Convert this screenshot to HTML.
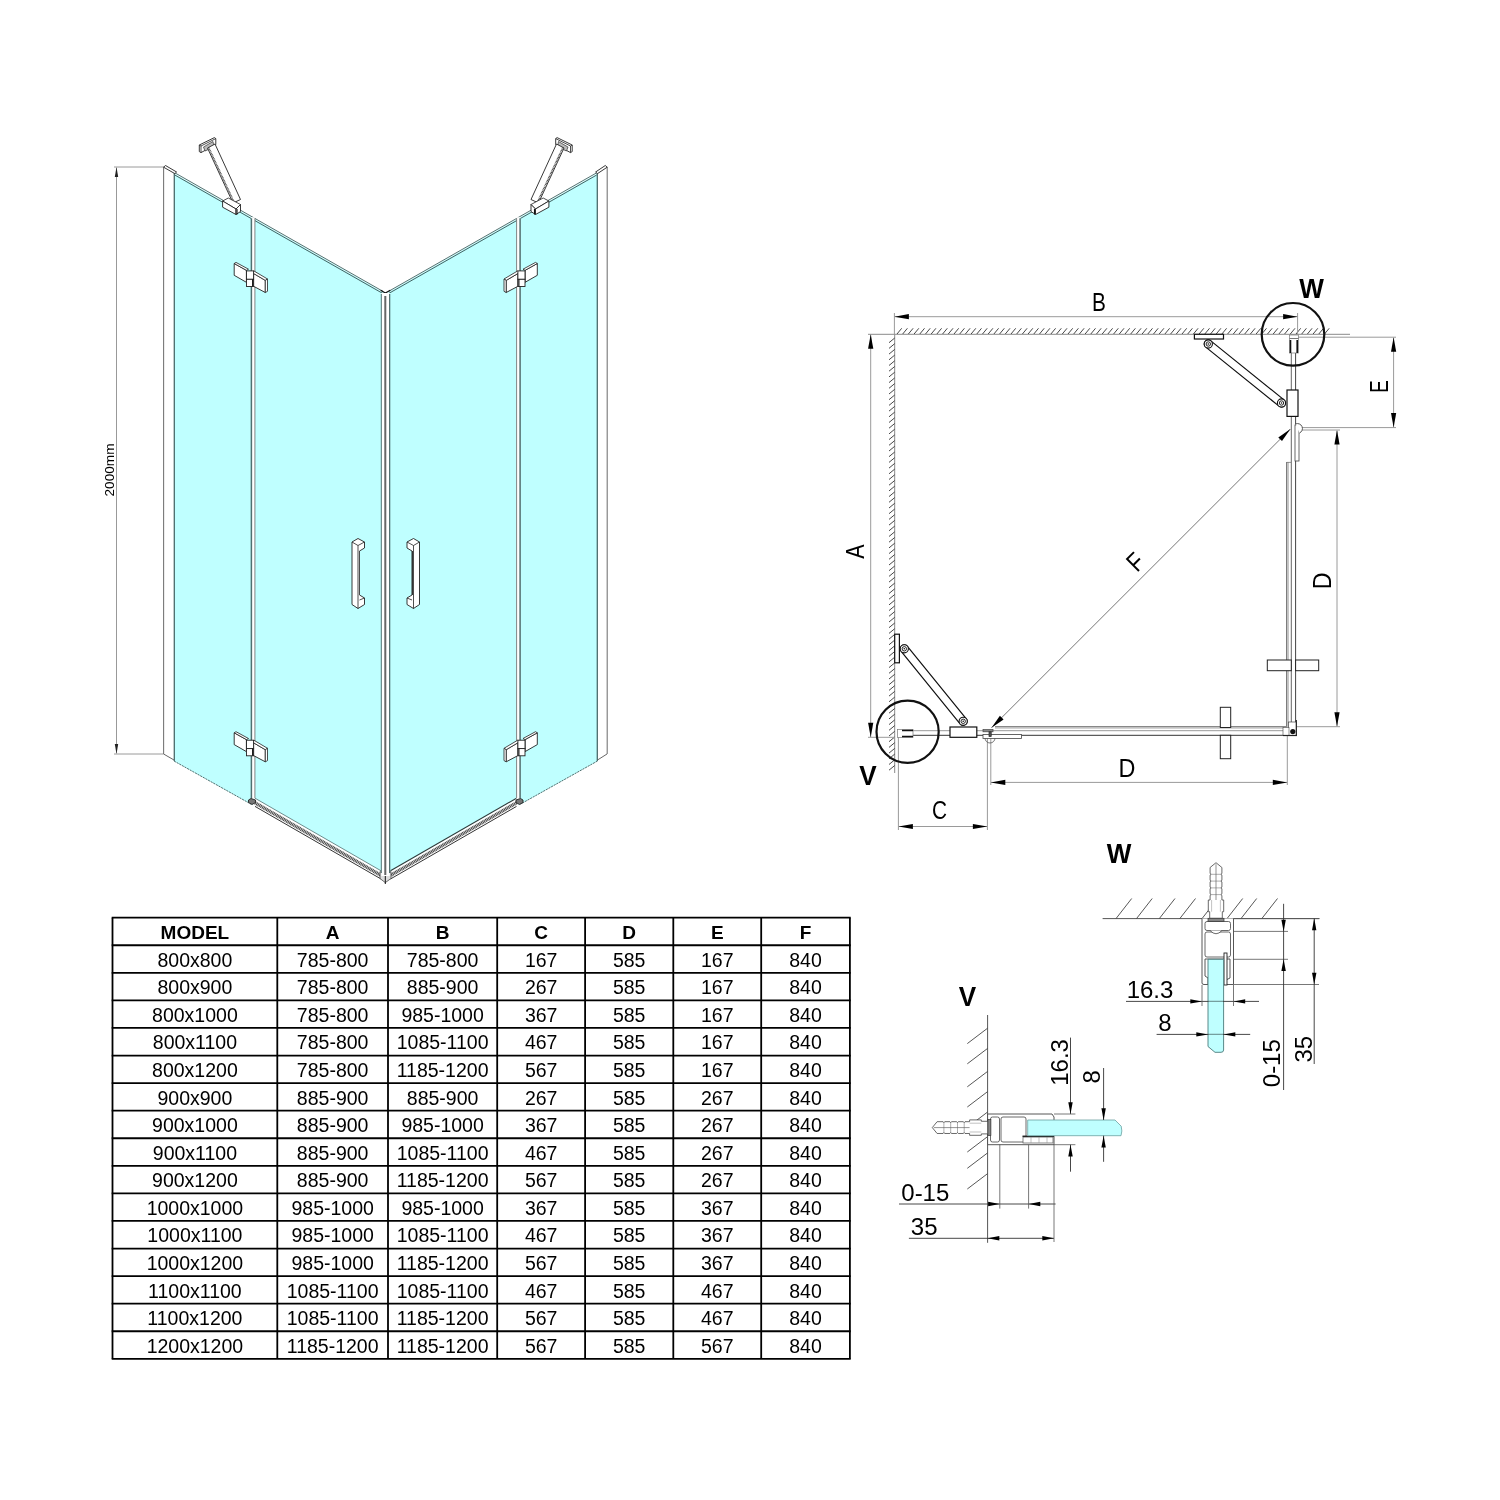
<!DOCTYPE html>
<html><head><meta charset="utf-8"><title>Shower enclosure drawing</title>
<style>
html,body{margin:0;padding:0;background:#fff;}
body{width:1500px;height:1500px;overflow:hidden;}
svg{display:block;font-family:"Liberation Sans",sans-serif;transform:translateZ(0);will-change:transform;}
</style></head><body>
<svg width="1500" height="1500" viewBox="0 0 1500 1500">
<rect width="1500" height="1500" fill="#fff"/>
<line x1="114.00" y1="167.00" x2="164.00" y2="167.00" stroke="#9a9a9a" stroke-width="1" />
<line x1="114.00" y1="754.00" x2="164.00" y2="754.00" stroke="#9a9a9a" stroke-width="1" />
<line x1="116.50" y1="168.00" x2="116.50" y2="753.00" stroke="#999" stroke-width="1" />
<polygon points="116.50,167.00 118.20,177.00 114.80,177.00" fill="#222"/>
<polygon points="116.50,754.00 114.80,744.00 118.20,744.00" fill="#222"/>
<text transform="translate(109.00,470.00) rotate(-90)" x="0" y="4.68" font-size="13.6" font-weight="normal" text-anchor="middle" fill="#000">2000mm</text>
<polygon points="174.00,173.60 253.00,218.23 253.00,805.24 174.00,761.00" stroke="none" stroke-width="0" fill="#bfffff" />
<polygon points="253.00,218.23 385.30,293.50 385.30,873.25 253.00,797.05" stroke="none" stroke-width="0" fill="#bfffff" />
<polygon points="518.50,218.23 386.20,293.50 386.20,873.25 518.50,797.05" stroke="none" stroke-width="0" fill="#bfffff" />
<polygon points="597.50,173.60 518.50,218.23 518.50,805.24 597.50,761.00" stroke="none" stroke-width="0" fill="#bfffff" />
<line x1="174.80" y1="172.80" x2="383.00" y2="291.40" stroke="#4a6a6a" stroke-width="0.95" />
<line x1="174.80" y1="175.00" x2="383.00" y2="293.60" stroke="#3a5a5a" stroke-width="0.95" />
<line x1="596.70" y1="172.80" x2="388.50" y2="291.40" stroke="#4a6a6a" stroke-width="0.95" />
<line x1="596.70" y1="175.00" x2="388.50" y2="293.60" stroke="#3a5a5a" stroke-width="0.95" />
<polyline points="380.70,290.30 385.30,293.00 390.30,290.30" stroke="#111" stroke-width="1.3" fill="none" />
<line x1="174.00" y1="761.00" x2="251.00" y2="804.12" stroke="#3f6262" stroke-width="0.9" stroke-dasharray="2.2 0.8"/>
<line x1="597.50" y1="761.00" x2="520.50" y2="804.12" stroke="#3f6262" stroke-width="0.9" stroke-dasharray="2.2 0.8"/>
<polygon points="255.00,798.20 381.00,870.78 381.00,879.38 255.00,806.80" stroke="none" stroke-width="0" fill="#fff" />
<line x1="255.00" y1="798.20" x2="381.00" y2="870.78" stroke="#5c8080" stroke-width="0.9" />
<line x1="255.00" y1="802.80" x2="381.00" y2="875.38" stroke="#4a4a4a" stroke-width="3.4" stroke-dasharray="1.1 0.55"/>
<line x1="255.00" y1="806.40" x2="381.00" y2="878.98" stroke="#333" stroke-width="1.0" />
<polygon points="516.50,798.20 390.50,870.78 390.50,879.38 516.50,806.80" stroke="none" stroke-width="0" fill="#fff" />
<line x1="516.50" y1="798.20" x2="390.50" y2="870.78" stroke="#2a3a3a" stroke-width="1.1" />
<line x1="516.50" y1="802.80" x2="390.50" y2="875.38" stroke="#4a4a4a" stroke-width="3.4" stroke-dasharray="1.1 0.55"/>
<line x1="516.50" y1="806.40" x2="390.50" y2="878.98" stroke="#333" stroke-width="1.0" />
<polygon points="380.00,871.50 385.30,875.00 391.00,871.50 391.00,878.50 385.30,882.60 380.00,878.50" stroke="#444" stroke-width="0.8" fill="#ddd" />
<line x1="385.30" y1="868.00" x2="385.30" y2="884.00" stroke="#111" stroke-width="1" />
<rect x="163.60" y="167.00" width="10.40" height="588.00" stroke="none" stroke-width="0" fill="#fff" />
<line x1="163.60" y1="167.00" x2="163.60" y2="754.00" stroke="#777" stroke-width="1.1" />
<line x1="174.30" y1="173.00" x2="174.30" y2="761.00" stroke="#4a6a6a" stroke-width="1.3" />
<line x1="163.60" y1="754.00" x2="174.00" y2="760.00" stroke="#555" stroke-width="0.9" />
<polygon points="163.60,167.20 165.50,165.50 176.60,172.00 174.80,173.60" stroke="#222" stroke-width="0.9" fill="#fff" />
<rect x="597.50" y="167.00" width="9.50" height="588.00" stroke="none" stroke-width="0" fill="#fff" />
<line x1="607.20" y1="167.00" x2="607.20" y2="754.00" stroke="#777" stroke-width="1.1" />
<line x1="597.30" y1="173.00" x2="597.30" y2="761.00" stroke="#4a6a6a" stroke-width="1.3" />
<line x1="607.00" y1="754.00" x2="597.50" y2="760.00" stroke="#555" stroke-width="0.9" />
<polygon points="607.20,167.20 605.30,165.50 595.60,172.00 597.50,173.60" stroke="#222" stroke-width="0.9" fill="#fff" />
<rect x="251.00" y="217.23" width="4.00" height="581.97" stroke="none" stroke-width="0" fill="#fff" />
<line x1="251.40" y1="218.23" x2="251.40" y2="798.20" stroke="#4f7070" stroke-width="1.5" />
<line x1="254.90" y1="218.23" x2="254.90" y2="798.20" stroke="#666" stroke-width="0.8" />
<rect x="516.50" y="217.23" width="4.00" height="581.97" stroke="none" stroke-width="0" fill="#fff" />
<line x1="520.10" y1="218.23" x2="520.10" y2="798.20" stroke="#4f7070" stroke-width="1.5" />
<line x1="516.60" y1="218.23" x2="516.60" y2="798.20" stroke="#666" stroke-width="0.8" />
<rect x="381.30" y="293.00" width="8.40" height="583.00" stroke="none" stroke-width="0" fill="#fff" />
<line x1="381.30" y1="294.00" x2="381.30" y2="873.00" stroke="#4f7070" stroke-width="1" />
<line x1="385.30" y1="296.00" x2="385.30" y2="875.00" stroke="#666" stroke-width="2" />
<line x1="389.70" y1="294.00" x2="389.70" y2="873.00" stroke="#3a5a5a" stroke-width="1.1" />
<polygon points="248.50,800.00 251.00,798.50 255.50,800.00 255.50,802.50 252.00,804.50 248.50,802.50" stroke="#222" stroke-width="0.9" fill="#777" />
<polygon points="523.00,800.00 520.50,798.50 516.00,800.00 516.00,802.50 519.50,804.50 523.00,802.50" stroke="#222" stroke-width="0.9" fill="#777" />
<polygon points="234.20,263.50 246.40,270.30 246.40,282.30 234.20,275.30" stroke="#222" stroke-width="0.9" fill="#fff" />
<polygon points="234.20,263.50 236.00,262.40 248.50,269.20 246.40,270.30" stroke="#222" stroke-width="0.8" fill="#fff" />
<polygon points="253.60,273.50 265.30,280.40 265.30,292.50 253.60,286.30" stroke="#222" stroke-width="0.9" fill="#fff" />
<polygon points="252.50,271.70 254.00,271.00 267.50,279.00 265.30,280.40 253.60,273.50" stroke="#222" stroke-width="0.8" fill="#fff" />
<polygon points="265.30,280.40 267.50,279.00 267.50,291.30 265.30,292.50" stroke="#222" stroke-width="0.8" fill="#fff" />
<rect x="246.50" y="270.90" width="7.10" height="8.40" stroke="#222" stroke-width="0.9" fill="#fff" />
<rect x="246.50" y="279.30" width="7.10" height="7.20" stroke="#222" stroke-width="0.9" fill="#fff" />
<line x1="252.60" y1="279.30" x2="252.60" y2="286.50" stroke="#111" stroke-width="1.1" />
<polygon points="537.30,263.50 525.10,270.30 525.10,282.30 537.30,275.30" stroke="#222" stroke-width="0.9" fill="#fff" />
<polygon points="537.30,263.50 535.50,262.40 523.00,269.20 525.10,270.30" stroke="#222" stroke-width="0.8" fill="#fff" />
<polygon points="517.90,273.50 506.20,280.40 506.20,292.50 517.90,286.30" stroke="#222" stroke-width="0.9" fill="#fff" />
<polygon points="519.00,271.70 517.50,271.00 504.00,279.00 506.20,280.40 517.90,273.50" stroke="#222" stroke-width="0.8" fill="#fff" />
<polygon points="506.20,280.40 504.00,279.00 504.00,291.30 506.20,292.50" stroke="#222" stroke-width="0.8" fill="#fff" />
<rect x="517.90" y="270.90" width="7.10" height="8.40" stroke="#222" stroke-width="0.9" fill="#fff" />
<rect x="517.90" y="279.30" width="7.10" height="7.20" stroke="#222" stroke-width="0.9" fill="#fff" />
<line x1="518.90" y1="279.30" x2="518.90" y2="286.50" stroke="#111" stroke-width="1.1" />
<polygon points="234.20,732.80 246.40,739.60 246.40,751.60 234.20,744.60" stroke="#222" stroke-width="0.9" fill="#fff" />
<polygon points="234.20,732.80 236.00,731.70 248.50,738.50 246.40,739.60" stroke="#222" stroke-width="0.8" fill="#fff" />
<polygon points="253.60,742.80 265.30,749.70 265.30,761.80 253.60,755.60" stroke="#222" stroke-width="0.9" fill="#fff" />
<polygon points="252.50,741.00 254.00,740.30 267.50,748.30 265.30,749.70 253.60,742.80" stroke="#222" stroke-width="0.8" fill="#fff" />
<polygon points="265.30,749.70 267.50,748.30 267.50,760.60 265.30,761.80" stroke="#222" stroke-width="0.8" fill="#fff" />
<rect x="246.50" y="740.20" width="7.10" height="8.40" stroke="#222" stroke-width="0.9" fill="#fff" />
<rect x="246.50" y="748.60" width="7.10" height="7.20" stroke="#222" stroke-width="0.9" fill="#fff" />
<line x1="252.60" y1="748.60" x2="252.60" y2="755.80" stroke="#111" stroke-width="1.1" />
<polygon points="537.30,732.80 525.10,739.60 525.10,751.60 537.30,744.60" stroke="#222" stroke-width="0.9" fill="#fff" />
<polygon points="537.30,732.80 535.50,731.70 523.00,738.50 525.10,739.60" stroke="#222" stroke-width="0.8" fill="#fff" />
<polygon points="517.90,742.80 506.20,749.70 506.20,761.80 517.90,755.60" stroke="#222" stroke-width="0.9" fill="#fff" />
<polygon points="519.00,741.00 517.50,740.30 504.00,748.30 506.20,749.70 517.90,742.80" stroke="#222" stroke-width="0.8" fill="#fff" />
<polygon points="506.20,749.70 504.00,748.30 504.00,760.60 506.20,761.80" stroke="#222" stroke-width="0.8" fill="#fff" />
<rect x="517.90" y="740.20" width="7.10" height="8.40" stroke="#222" stroke-width="0.9" fill="#fff" />
<rect x="517.90" y="748.60" width="7.10" height="7.20" stroke="#222" stroke-width="0.9" fill="#fff" />
<line x1="518.90" y1="748.60" x2="518.90" y2="755.80" stroke="#111" stroke-width="1.1" />
<polygon points="352.00,542.00 358.00,538.50 364.50,542.00 364.50,548.00 359.50,551.00 359.50,595.00 364.50,598.00 364.50,604.50 358.00,608.50 352.00,604.50" stroke="#222" stroke-width="0.9" fill="#fff" />
<polyline points="352.00,542.00 358.00,545.50 364.50,542.00" stroke="#222" stroke-width="0.8" fill="none" />
<line x1="358.00" y1="545.50" x2="358.00" y2="608.50" stroke="#222" stroke-width="0.8" />
<line x1="359.50" y1="551.00" x2="359.50" y2="595.00" stroke="#555" stroke-width="0.7" />
<polyline points="359.50,600.00 364.50,598.00" stroke="#222" stroke-width="0.8" fill="none" />
<polygon points="419.50,542.00 413.50,538.50 407.00,542.00 407.00,548.00 412.00,551.00 412.00,595.00 407.00,598.00 407.00,604.50 413.50,608.50 419.50,604.50" stroke="#222" stroke-width="0.9" fill="#fff" />
<polyline points="407.00,542.00 413.50,545.50 419.50,542.00" stroke="#222" stroke-width="0.8" fill="none" />
<line x1="413.50" y1="545.50" x2="413.50" y2="608.50" stroke="#222" stroke-width="0.8" />
<line x1="412.50" y1="551.00" x2="412.50" y2="595.00" stroke="#333" stroke-width="1.1" />
<polyline points="412.00,600.00 407.00,598.00" stroke="#222" stroke-width="0.8" fill="none" />
<polygon points="199.30,145.00 214.40,137.60 215.80,138.60 215.80,144.60 201.00,152.60 199.30,151.60" stroke="#222" stroke-width="0.9" fill="#fff" />
<polyline points="199.30,145.00 201.00,146.00 215.80,138.60" stroke="#222" stroke-width="0.8" fill="none" />
<line x1="201.00" y1="146.00" x2="201.00" y2="152.60" stroke="#222" stroke-width="0.8" />
<polygon points="203.50,147.00 213.00,141.50 214.00,147.00 205.00,151.00" stroke="#333" stroke-width="0.7" fill="#bbb" />
<polygon points="207.50,148.00 215.00,144.00 240.50,199.50 233.00,203.00" stroke="#222" stroke-width="0.9" fill="#fff" />
<line x1="208.70" y1="147.50" x2="234.20" y2="202.50" stroke="#444" stroke-width="1.5" stroke-dasharray="0.9 0.6"/>
<polygon points="222.60,201.00 228.30,198.00 240.50,204.50 236.00,209.00" stroke="#222" stroke-width="0.8" fill="#fff" />
<polygon points="222.60,201.00 236.00,209.00 236.00,214.50 222.60,207.20" stroke="#222" stroke-width="0.9" fill="#fff" />
<polygon points="236.00,209.00 240.50,204.50 240.50,211.50 236.00,214.50" stroke="#222" stroke-width="0.9" fill="#fff" />
<line x1="237.00" y1="209.00" x2="237.00" y2="214.50" stroke="#111" stroke-width="1.1" />
<polygon points="572.20,145.00 557.10,137.60 555.70,138.60 555.70,144.60 570.50,152.60 572.20,151.60" stroke="#222" stroke-width="0.9" fill="#fff" />
<polyline points="572.20,145.00 570.50,146.00 555.70,138.60" stroke="#222" stroke-width="0.8" fill="none" />
<line x1="570.50" y1="146.00" x2="570.50" y2="152.60" stroke="#222" stroke-width="0.8" />
<polygon points="568.00,147.00 558.50,141.50 557.50,147.00 566.50,151.00" stroke="#333" stroke-width="0.7" fill="#bbb" />
<polygon points="564.00,148.00 556.50,144.00 531.00,199.50 538.50,203.00" stroke="#222" stroke-width="0.9" fill="#fff" />
<line x1="562.80" y1="147.50" x2="537.30" y2="202.50" stroke="#444" stroke-width="1.5" stroke-dasharray="0.9 0.6"/>
<polygon points="548.90,201.00 543.20,198.00 531.00,204.50 535.50,209.00" stroke="#222" stroke-width="0.8" fill="#fff" />
<polygon points="548.90,201.00 535.50,209.00 535.50,214.50 548.90,207.20" stroke="#222" stroke-width="0.9" fill="#fff" />
<polygon points="535.50,209.00 531.00,204.50 531.00,211.50 535.50,214.50" stroke="#222" stroke-width="0.9" fill="#fff" />
<line x1="534.50" y1="209.00" x2="534.50" y2="214.50" stroke="#111" stroke-width="1.1" />
<line x1="868.00" y1="334.30" x2="1350.00" y2="334.30" stroke="#8a8a8a" stroke-width="1" />
<line x1="894.70" y1="334.30" x2="894.70" y2="773.00" stroke="#8a8a8a" stroke-width="1" />
<line x1="897.00" y1="334.00" x2="901.70" y2="328.30" stroke="#333" stroke-width="0.9" />
<line x1="902.70" y1="334.00" x2="907.40" y2="328.30" stroke="#333" stroke-width="0.9" />
<line x1="908.40" y1="334.00" x2="913.10" y2="328.30" stroke="#333" stroke-width="0.9" />
<line x1="914.10" y1="334.00" x2="918.80" y2="328.30" stroke="#333" stroke-width="0.9" />
<line x1="919.80" y1="334.00" x2="924.50" y2="328.30" stroke="#333" stroke-width="0.9" />
<line x1="925.50" y1="334.00" x2="930.20" y2="328.30" stroke="#333" stroke-width="0.9" />
<line x1="931.20" y1="334.00" x2="935.90" y2="328.30" stroke="#333" stroke-width="0.9" />
<line x1="936.90" y1="334.00" x2="941.60" y2="328.30" stroke="#333" stroke-width="0.9" />
<line x1="942.60" y1="334.00" x2="947.30" y2="328.30" stroke="#333" stroke-width="0.9" />
<line x1="948.30" y1="334.00" x2="953.00" y2="328.30" stroke="#333" stroke-width="0.9" />
<line x1="954.00" y1="334.00" x2="958.70" y2="328.30" stroke="#333" stroke-width="0.9" />
<line x1="959.70" y1="334.00" x2="964.40" y2="328.30" stroke="#333" stroke-width="0.9" />
<line x1="965.40" y1="334.00" x2="970.10" y2="328.30" stroke="#333" stroke-width="0.9" />
<line x1="971.10" y1="334.00" x2="975.80" y2="328.30" stroke="#333" stroke-width="0.9" />
<line x1="976.80" y1="334.00" x2="981.50" y2="328.30" stroke="#333" stroke-width="0.9" />
<line x1="982.50" y1="334.00" x2="987.20" y2="328.30" stroke="#333" stroke-width="0.9" />
<line x1="988.20" y1="334.00" x2="992.90" y2="328.30" stroke="#333" stroke-width="0.9" />
<line x1="993.90" y1="334.00" x2="998.60" y2="328.30" stroke="#333" stroke-width="0.9" />
<line x1="999.60" y1="334.00" x2="1004.30" y2="328.30" stroke="#333" stroke-width="0.9" />
<line x1="1005.30" y1="334.00" x2="1010.00" y2="328.30" stroke="#333" stroke-width="0.9" />
<line x1="1011.00" y1="334.00" x2="1015.70" y2="328.30" stroke="#333" stroke-width="0.9" />
<line x1="1016.70" y1="334.00" x2="1021.40" y2="328.30" stroke="#333" stroke-width="0.9" />
<line x1="1022.40" y1="334.00" x2="1027.10" y2="328.30" stroke="#333" stroke-width="0.9" />
<line x1="1028.10" y1="334.00" x2="1032.80" y2="328.30" stroke="#333" stroke-width="0.9" />
<line x1="1033.80" y1="334.00" x2="1038.50" y2="328.30" stroke="#333" stroke-width="0.9" />
<line x1="1039.50" y1="334.00" x2="1044.20" y2="328.30" stroke="#333" stroke-width="0.9" />
<line x1="1045.20" y1="334.00" x2="1049.90" y2="328.30" stroke="#333" stroke-width="0.9" />
<line x1="1050.90" y1="334.00" x2="1055.60" y2="328.30" stroke="#333" stroke-width="0.9" />
<line x1="1056.60" y1="334.00" x2="1061.30" y2="328.30" stroke="#333" stroke-width="0.9" />
<line x1="1062.30" y1="334.00" x2="1067.00" y2="328.30" stroke="#333" stroke-width="0.9" />
<line x1="1068.00" y1="334.00" x2="1072.70" y2="328.30" stroke="#333" stroke-width="0.9" />
<line x1="1073.70" y1="334.00" x2="1078.40" y2="328.30" stroke="#333" stroke-width="0.9" />
<line x1="1079.40" y1="334.00" x2="1084.10" y2="328.30" stroke="#333" stroke-width="0.9" />
<line x1="1085.10" y1="334.00" x2="1089.80" y2="328.30" stroke="#333" stroke-width="0.9" />
<line x1="1090.80" y1="334.00" x2="1095.50" y2="328.30" stroke="#333" stroke-width="0.9" />
<line x1="1096.50" y1="334.00" x2="1101.20" y2="328.30" stroke="#333" stroke-width="0.9" />
<line x1="1102.20" y1="334.00" x2="1106.90" y2="328.30" stroke="#333" stroke-width="0.9" />
<line x1="1107.90" y1="334.00" x2="1112.60" y2="328.30" stroke="#333" stroke-width="0.9" />
<line x1="1113.60" y1="334.00" x2="1118.30" y2="328.30" stroke="#333" stroke-width="0.9" />
<line x1="1119.30" y1="334.00" x2="1124.00" y2="328.30" stroke="#333" stroke-width="0.9" />
<line x1="1125.00" y1="334.00" x2="1129.70" y2="328.30" stroke="#333" stroke-width="0.9" />
<line x1="1130.70" y1="334.00" x2="1135.40" y2="328.30" stroke="#333" stroke-width="0.9" />
<line x1="1136.40" y1="334.00" x2="1141.10" y2="328.30" stroke="#333" stroke-width="0.9" />
<line x1="1142.10" y1="334.00" x2="1146.80" y2="328.30" stroke="#333" stroke-width="0.9" />
<line x1="1147.80" y1="334.00" x2="1152.50" y2="328.30" stroke="#333" stroke-width="0.9" />
<line x1="1153.50" y1="334.00" x2="1158.20" y2="328.30" stroke="#333" stroke-width="0.9" />
<line x1="1159.20" y1="334.00" x2="1163.90" y2="328.30" stroke="#333" stroke-width="0.9" />
<line x1="1164.90" y1="334.00" x2="1169.60" y2="328.30" stroke="#333" stroke-width="0.9" />
<line x1="1170.60" y1="334.00" x2="1175.30" y2="328.30" stroke="#333" stroke-width="0.9" />
<line x1="1176.30" y1="334.00" x2="1181.00" y2="328.30" stroke="#333" stroke-width="0.9" />
<line x1="1182.00" y1="334.00" x2="1186.70" y2="328.30" stroke="#333" stroke-width="0.9" />
<line x1="1187.70" y1="334.00" x2="1192.40" y2="328.30" stroke="#333" stroke-width="0.9" />
<line x1="1193.40" y1="334.00" x2="1198.10" y2="328.30" stroke="#333" stroke-width="0.9" />
<line x1="1199.10" y1="334.00" x2="1203.80" y2="328.30" stroke="#333" stroke-width="0.9" />
<line x1="1204.80" y1="334.00" x2="1209.50" y2="328.30" stroke="#333" stroke-width="0.9" />
<line x1="1210.50" y1="334.00" x2="1215.20" y2="328.30" stroke="#333" stroke-width="0.9" />
<line x1="1216.20" y1="334.00" x2="1220.90" y2="328.30" stroke="#333" stroke-width="0.9" />
<line x1="1221.90" y1="334.00" x2="1226.60" y2="328.30" stroke="#333" stroke-width="0.9" />
<line x1="1227.60" y1="334.00" x2="1232.30" y2="328.30" stroke="#333" stroke-width="0.9" />
<line x1="1233.30" y1="334.00" x2="1238.00" y2="328.30" stroke="#333" stroke-width="0.9" />
<line x1="1239.00" y1="334.00" x2="1243.70" y2="328.30" stroke="#333" stroke-width="0.9" />
<line x1="1244.70" y1="334.00" x2="1249.40" y2="328.30" stroke="#333" stroke-width="0.9" />
<line x1="1250.40" y1="334.00" x2="1255.10" y2="328.30" stroke="#333" stroke-width="0.9" />
<line x1="1256.10" y1="334.00" x2="1260.80" y2="328.30" stroke="#333" stroke-width="0.9" />
<line x1="1261.80" y1="334.00" x2="1266.50" y2="328.30" stroke="#333" stroke-width="0.9" />
<line x1="1267.50" y1="334.00" x2="1272.20" y2="328.30" stroke="#333" stroke-width="0.9" />
<line x1="1273.20" y1="334.00" x2="1277.90" y2="328.30" stroke="#333" stroke-width="0.9" />
<line x1="1278.90" y1="334.00" x2="1283.60" y2="328.30" stroke="#333" stroke-width="0.9" />
<line x1="1284.60" y1="334.00" x2="1289.30" y2="328.30" stroke="#333" stroke-width="0.9" />
<line x1="1290.30" y1="334.00" x2="1295.00" y2="328.30" stroke="#333" stroke-width="0.9" />
<line x1="1296.00" y1="334.00" x2="1300.70" y2="328.30" stroke="#333" stroke-width="0.9" />
<line x1="1301.70" y1="334.00" x2="1306.40" y2="328.30" stroke="#333" stroke-width="0.9" />
<line x1="1307.40" y1="334.00" x2="1312.10" y2="328.30" stroke="#333" stroke-width="0.9" />
<line x1="1313.10" y1="334.00" x2="1317.80" y2="328.30" stroke="#333" stroke-width="0.9" />
<line x1="1318.80" y1="334.00" x2="1323.50" y2="328.30" stroke="#333" stroke-width="0.9" />
<line x1="1324.50" y1="334.00" x2="1329.20" y2="328.30" stroke="#333" stroke-width="0.9" />
<line x1="894.70" y1="338.00" x2="889.00" y2="342.70" stroke="#333" stroke-width="0.9" />
<line x1="894.70" y1="343.70" x2="889.00" y2="348.40" stroke="#333" stroke-width="0.9" />
<line x1="894.70" y1="349.40" x2="889.00" y2="354.10" stroke="#333" stroke-width="0.9" />
<line x1="894.70" y1="355.10" x2="889.00" y2="359.80" stroke="#333" stroke-width="0.9" />
<line x1="894.70" y1="360.80" x2="889.00" y2="365.50" stroke="#333" stroke-width="0.9" />
<line x1="894.70" y1="366.50" x2="889.00" y2="371.20" stroke="#333" stroke-width="0.9" />
<line x1="894.70" y1="372.20" x2="889.00" y2="376.90" stroke="#333" stroke-width="0.9" />
<line x1="894.70" y1="377.90" x2="889.00" y2="382.60" stroke="#333" stroke-width="0.9" />
<line x1="894.70" y1="383.60" x2="889.00" y2="388.30" stroke="#333" stroke-width="0.9" />
<line x1="894.70" y1="389.30" x2="889.00" y2="394.00" stroke="#333" stroke-width="0.9" />
<line x1="894.70" y1="395.00" x2="889.00" y2="399.70" stroke="#333" stroke-width="0.9" />
<line x1="894.70" y1="400.70" x2="889.00" y2="405.40" stroke="#333" stroke-width="0.9" />
<line x1="894.70" y1="406.40" x2="889.00" y2="411.10" stroke="#333" stroke-width="0.9" />
<line x1="894.70" y1="412.10" x2="889.00" y2="416.80" stroke="#333" stroke-width="0.9" />
<line x1="894.70" y1="417.80" x2="889.00" y2="422.50" stroke="#333" stroke-width="0.9" />
<line x1="894.70" y1="423.50" x2="889.00" y2="428.20" stroke="#333" stroke-width="0.9" />
<line x1="894.70" y1="429.20" x2="889.00" y2="433.90" stroke="#333" stroke-width="0.9" />
<line x1="894.70" y1="434.90" x2="889.00" y2="439.60" stroke="#333" stroke-width="0.9" />
<line x1="894.70" y1="440.60" x2="889.00" y2="445.30" stroke="#333" stroke-width="0.9" />
<line x1="894.70" y1="446.30" x2="889.00" y2="451.00" stroke="#333" stroke-width="0.9" />
<line x1="894.70" y1="452.00" x2="889.00" y2="456.70" stroke="#333" stroke-width="0.9" />
<line x1="894.70" y1="457.70" x2="889.00" y2="462.40" stroke="#333" stroke-width="0.9" />
<line x1="894.70" y1="463.40" x2="889.00" y2="468.10" stroke="#333" stroke-width="0.9" />
<line x1="894.70" y1="469.10" x2="889.00" y2="473.80" stroke="#333" stroke-width="0.9" />
<line x1="894.70" y1="474.80" x2="889.00" y2="479.50" stroke="#333" stroke-width="0.9" />
<line x1="894.70" y1="480.50" x2="889.00" y2="485.20" stroke="#333" stroke-width="0.9" />
<line x1="894.70" y1="486.20" x2="889.00" y2="490.90" stroke="#333" stroke-width="0.9" />
<line x1="894.70" y1="491.90" x2="889.00" y2="496.60" stroke="#333" stroke-width="0.9" />
<line x1="894.70" y1="497.60" x2="889.00" y2="502.30" stroke="#333" stroke-width="0.9" />
<line x1="894.70" y1="503.30" x2="889.00" y2="508.00" stroke="#333" stroke-width="0.9" />
<line x1="894.70" y1="509.00" x2="889.00" y2="513.70" stroke="#333" stroke-width="0.9" />
<line x1="894.70" y1="514.70" x2="889.00" y2="519.40" stroke="#333" stroke-width="0.9" />
<line x1="894.70" y1="520.40" x2="889.00" y2="525.10" stroke="#333" stroke-width="0.9" />
<line x1="894.70" y1="526.10" x2="889.00" y2="530.80" stroke="#333" stroke-width="0.9" />
<line x1="894.70" y1="531.80" x2="889.00" y2="536.50" stroke="#333" stroke-width="0.9" />
<line x1="894.70" y1="537.50" x2="889.00" y2="542.20" stroke="#333" stroke-width="0.9" />
<line x1="894.70" y1="543.20" x2="889.00" y2="547.90" stroke="#333" stroke-width="0.9" />
<line x1="894.70" y1="548.90" x2="889.00" y2="553.60" stroke="#333" stroke-width="0.9" />
<line x1="894.70" y1="554.60" x2="889.00" y2="559.30" stroke="#333" stroke-width="0.9" />
<line x1="894.70" y1="560.30" x2="889.00" y2="565.00" stroke="#333" stroke-width="0.9" />
<line x1="894.70" y1="566.00" x2="889.00" y2="570.70" stroke="#333" stroke-width="0.9" />
<line x1="894.70" y1="571.70" x2="889.00" y2="576.40" stroke="#333" stroke-width="0.9" />
<line x1="894.70" y1="577.40" x2="889.00" y2="582.10" stroke="#333" stroke-width="0.9" />
<line x1="894.70" y1="583.10" x2="889.00" y2="587.80" stroke="#333" stroke-width="0.9" />
<line x1="894.70" y1="588.80" x2="889.00" y2="593.50" stroke="#333" stroke-width="0.9" />
<line x1="894.70" y1="594.50" x2="889.00" y2="599.20" stroke="#333" stroke-width="0.9" />
<line x1="894.70" y1="600.20" x2="889.00" y2="604.90" stroke="#333" stroke-width="0.9" />
<line x1="894.70" y1="605.90" x2="889.00" y2="610.60" stroke="#333" stroke-width="0.9" />
<line x1="894.70" y1="611.60" x2="889.00" y2="616.30" stroke="#333" stroke-width="0.9" />
<line x1="894.70" y1="617.30" x2="889.00" y2="622.00" stroke="#333" stroke-width="0.9" />
<line x1="894.70" y1="623.00" x2="889.00" y2="627.70" stroke="#333" stroke-width="0.9" />
<line x1="894.70" y1="628.70" x2="889.00" y2="633.40" stroke="#333" stroke-width="0.9" />
<line x1="894.70" y1="634.40" x2="889.00" y2="639.10" stroke="#333" stroke-width="0.9" />
<line x1="894.70" y1="640.10" x2="889.00" y2="644.80" stroke="#333" stroke-width="0.9" />
<line x1="894.70" y1="645.80" x2="889.00" y2="650.50" stroke="#333" stroke-width="0.9" />
<line x1="894.70" y1="651.50" x2="889.00" y2="656.20" stroke="#333" stroke-width="0.9" />
<line x1="894.70" y1="657.20" x2="889.00" y2="661.90" stroke="#333" stroke-width="0.9" />
<line x1="894.70" y1="662.90" x2="889.00" y2="667.60" stroke="#333" stroke-width="0.9" />
<line x1="894.70" y1="668.60" x2="889.00" y2="673.30" stroke="#333" stroke-width="0.9" />
<line x1="894.70" y1="674.30" x2="889.00" y2="679.00" stroke="#333" stroke-width="0.9" />
<line x1="894.70" y1="680.00" x2="889.00" y2="684.70" stroke="#333" stroke-width="0.9" />
<line x1="894.70" y1="685.70" x2="889.00" y2="690.40" stroke="#333" stroke-width="0.9" />
<line x1="894.70" y1="691.40" x2="889.00" y2="696.10" stroke="#333" stroke-width="0.9" />
<line x1="894.70" y1="697.10" x2="889.00" y2="701.80" stroke="#333" stroke-width="0.9" />
<line x1="894.70" y1="702.80" x2="889.00" y2="707.50" stroke="#333" stroke-width="0.9" />
<line x1="894.70" y1="708.50" x2="889.00" y2="713.20" stroke="#333" stroke-width="0.9" />
<line x1="894.70" y1="714.20" x2="889.00" y2="718.90" stroke="#333" stroke-width="0.9" />
<line x1="894.70" y1="719.90" x2="889.00" y2="724.60" stroke="#333" stroke-width="0.9" />
<line x1="894.70" y1="725.60" x2="889.00" y2="730.30" stroke="#333" stroke-width="0.9" />
<line x1="894.70" y1="731.30" x2="889.00" y2="736.00" stroke="#333" stroke-width="0.9" />
<line x1="894.70" y1="737.00" x2="889.00" y2="741.70" stroke="#333" stroke-width="0.9" />
<line x1="894.70" y1="742.70" x2="889.00" y2="747.40" stroke="#333" stroke-width="0.9" />
<line x1="894.70" y1="748.40" x2="889.00" y2="753.10" stroke="#333" stroke-width="0.9" />
<line x1="894.70" y1="754.10" x2="889.00" y2="758.80" stroke="#333" stroke-width="0.9" />
<line x1="894.70" y1="759.80" x2="889.00" y2="764.50" stroke="#333" stroke-width="0.9" />
<line x1="894.70" y1="765.50" x2="889.00" y2="770.20" stroke="#333" stroke-width="0.9" />
<line x1="894.40" y1="313.00" x2="894.40" y2="334.00" stroke="#9a9a9a" stroke-width="1" />
<line x1="1297.60" y1="313.00" x2="1297.60" y2="334.00" stroke="#9a9a9a" stroke-width="1" />
<line x1="895.00" y1="316.70" x2="1297.00" y2="316.70" stroke="#9a9a9a" stroke-width="1" />
<polygon points="894.40,316.70 908.90,314.10 908.90,319.30" fill="#000"/>
<polygon points="1297.60,316.70 1283.10,319.30 1283.10,314.10" fill="#000"/>
<text transform="translate(1099.00,302.00) scale(0.8,1)" x="0" y="8.94" font-size="26" font-weight="normal" text-anchor="middle" fill="#000">B</text>
<line x1="868.00" y1="737.30" x2="895.00" y2="737.30" stroke="#9a9a9a" stroke-width="1" />
<line x1="870.70" y1="335.00" x2="870.70" y2="737.00" stroke="#9a9a9a" stroke-width="1" />
<polygon points="870.70,334.30 873.30,348.80 868.10,348.80" fill="#000"/>
<polygon points="870.70,737.30 868.10,722.80 873.30,722.80" fill="#000"/>
<text transform="translate(855.00,551.60) rotate(-90) scale(0.83,1)" x="0" y="8.94" font-size="26" font-weight="normal" text-anchor="middle" fill="#000">A</text>
<line x1="1298.00" y1="337.20" x2="1396.00" y2="337.20" stroke="#9a9a9a" stroke-width="1" />
<line x1="1300.00" y1="427.60" x2="1396.00" y2="427.60" stroke="#9a9a9a" stroke-width="1" />
<line x1="1393.60" y1="338.00" x2="1393.60" y2="427.00" stroke="#9a9a9a" stroke-width="1" />
<polygon points="1393.60,337.20 1396.20,351.70 1391.00,351.70" fill="#000"/>
<polygon points="1393.60,427.60 1391.00,413.10 1396.20,413.10" fill="#000"/>
<text transform="translate(1379.00,386.60) rotate(-90) scale(0.72,1)" x="0" y="8.94" font-size="26" font-weight="normal" text-anchor="middle" fill="#000">E</text>
<line x1="1300.00" y1="430.00" x2="1340.00" y2="430.00" stroke="#9a9a9a" stroke-width="1" />
<line x1="1297.00" y1="726.70" x2="1340.00" y2="726.70" stroke="#9a9a9a" stroke-width="1" />
<line x1="1337.00" y1="431.00" x2="1337.00" y2="726.00" stroke="#9a9a9a" stroke-width="1" />
<polygon points="1337.00,430.00 1339.60,444.50 1334.40,444.50" fill="#000"/>
<polygon points="1337.00,726.70 1334.40,712.20 1339.60,712.20" fill="#000"/>
<text transform="translate(1321.60,580.70) rotate(-90) scale(0.9,1)" x="0" y="8.94" font-size="26" font-weight="normal" text-anchor="middle" fill="#000">D</text>
<line x1="990.80" y1="737.00" x2="990.80" y2="785.00" stroke="#9a9a9a" stroke-width="1" />
<line x1="1287.30" y1="735.00" x2="1287.30" y2="785.00" stroke="#9a9a9a" stroke-width="1" />
<line x1="991.00" y1="782.40" x2="1287.00" y2="782.40" stroke="#9a9a9a" stroke-width="1" />
<polygon points="990.80,782.40 1005.30,779.80 1005.30,785.00" fill="#000"/>
<polygon points="1287.30,782.40 1272.80,785.00 1272.80,779.80" fill="#000"/>
<text transform="translate(1127.00,768.00) scale(0.9,1)" x="0" y="8.94" font-size="26" font-weight="normal" text-anchor="middle" fill="#000">D</text>
<line x1="898.40" y1="737.00" x2="898.40" y2="830.00" stroke="#9a9a9a" stroke-width="1" />
<line x1="987.40" y1="737.00" x2="987.40" y2="830.00" stroke="#9a9a9a" stroke-width="1" />
<line x1="899.00" y1="826.50" x2="987.00" y2="826.50" stroke="#9a9a9a" stroke-width="1" />
<polygon points="898.40,826.50 912.90,823.90 912.90,829.10" fill="#000"/>
<polygon points="987.40,826.50 972.90,829.10 972.90,823.90" fill="#000"/>
<text transform="translate(939.40,810.00) scale(0.8,1)" x="0" y="8.94" font-size="26" font-weight="normal" text-anchor="middle" fill="#000">C</text>
<line x1="991.50" y1="727.80" x2="1290.40" y2="429.00" stroke="#777" stroke-width="1" />
<polygon points="991.50,727.80 999.91,715.71 1003.59,719.39" fill="#000"/>
<polygon points="1290.40,429.00 1281.99,441.09 1278.31,437.41" fill="#000"/>
<text transform="translate(1135.50,562.00) rotate(-45) scale(0.85,1)" x="0" y="8.94" font-size="26" font-weight="normal" text-anchor="middle" fill="#000">F</text>
<line x1="1291.30" y1="337.00" x2="1291.30" y2="735.00" stroke="#666" stroke-width="1" />
<line x1="1295.60" y1="337.00" x2="1295.60" y2="735.00" stroke="#444" stroke-width="1" />
<line x1="1286.70" y1="462.00" x2="1286.70" y2="727.00" stroke="#777" stroke-width="1.3" />
<line x1="1288.20" y1="462.00" x2="1288.20" y2="727.00" stroke="#999" stroke-width="0.8" />
<line x1="1286.70" y1="462.40" x2="1291.00" y2="462.40" stroke="#777" stroke-width="0.8" />
<line x1="898.00" y1="730.70" x2="1296.00" y2="730.70" stroke="#999" stroke-width="1" />
<line x1="898.00" y1="735.30" x2="1296.00" y2="735.30" stroke="#333" stroke-width="1" />
<line x1="995.00" y1="726.70" x2="1287.00" y2="726.70" stroke="#888" stroke-width="1.6" />
<line x1="995.00" y1="728.30" x2="1287.00" y2="728.30" stroke="#bbb" stroke-width="0.8" />
<rect x="1267.30" y="660.00" width="24.00" height="10.70" stroke="#222" stroke-width="1" fill="#fff" />
<rect x="1295.60" y="660.00" width="23.10" height="10.70" stroke="#222" stroke-width="1" fill="#fff" />
<rect x="1220.30" y="707.30" width="10.40" height="20.20" stroke="#222" stroke-width="1" fill="#fff" />
<rect x="1220.30" y="735.30" width="10.40" height="23.40" stroke="#222" stroke-width="1" fill="#fff" />
<rect x="1288.50" y="722.00" width="8.00" height="13.50" stroke="#444" stroke-width="0.7" fill="#fff" />
<rect x="1283.00" y="727.50" width="6.00" height="7.80" stroke="#444" stroke-width="0.6" fill="#fff" />
<circle cx="1292.8" cy="731.6" r="2.6" fill="#111"/>
<line x1="1296.30" y1="720.00" x2="1296.30" y2="736.00" stroke="#222" stroke-width="1.2" />
<line x1="1283.00" y1="735.50" x2="1297.00" y2="735.50" stroke="#222" stroke-width="1.2" />
<rect x="1295.00" y="425.00" width="4.00" height="36.00" stroke="#444" stroke-width="0.8" fill="#fff" />
<path d="M1295.5,424 A4.5,4.5 0 0 1 1299.5,433" stroke="#444" stroke-width="0.9" fill="#fff"/>
<rect x="1194.40" y="334.30" width="29.10" height="4.70" stroke="#111" stroke-width="1.2" fill="#fff" />
<line x1="1208.3" y1="344" x2="1281.5" y2="403" stroke="#111" stroke-width="9.2" stroke-linecap="round"/>
<line x1="1208.3" y1="344" x2="1281.5" y2="403" stroke="#fff" stroke-width="6.8" stroke-linecap="round"/>
<circle cx="1208.3" cy="344" r="4.1" stroke="#111" stroke-width="1.1" fill="#fff"/>
<circle cx="1208.3" cy="344" r="2.2" stroke="#111" stroke-width="0.9" fill="#fff"/>
<circle cx="1208.3" cy="344" r="0.8" fill="#111"/>
<circle cx="1281.5" cy="403" r="4.1" stroke="#111" stroke-width="1.1" fill="#fff"/>
<circle cx="1281.5" cy="403" r="2.2" stroke="#111" stroke-width="0.9" fill="#fff"/>
<circle cx="1281.5" cy="403" r="0.8" fill="#111"/>
<rect x="1287.00" y="390.00" width="11.00" height="26.40" stroke="#111" stroke-width="1.2" fill="#fff" />
<rect x="1289.60" y="335.00" width="8.80" height="18.00" stroke="#777" stroke-width="0.7" fill="#fff" />
<line x1="1290.50" y1="340.00" x2="1290.50" y2="353.00" stroke="#111" stroke-width="1.6" />
<line x1="1297.20" y1="340.00" x2="1297.20" y2="353.00" stroke="#111" stroke-width="1.6" />
<line x1="1289.60" y1="338.50" x2="1298.40" y2="338.50" stroke="#555" stroke-width="0.8" />
<circle cx="1293" cy="334.3" r="31.3" stroke="#111" stroke-width="2.2" fill="none"/>
<text transform="translate(1311.70,288.40) scale(0.95,1)" x="0" y="9.46" font-size="27.5" font-weight="bold" text-anchor="middle" fill="#000">W</text>
<rect x="894.70" y="634.20" width="4.70" height="28.60" stroke="#111" stroke-width="1.2" fill="#fff" />
<line x1="904.3" y1="648.8" x2="963.2" y2="721.3" stroke="#111" stroke-width="9.2" stroke-linecap="round"/>
<line x1="904.3" y1="648.8" x2="963.2" y2="721.3" stroke="#fff" stroke-width="6.8" stroke-linecap="round"/>
<circle cx="904.3" cy="648.8" r="4.1" stroke="#111" stroke-width="1.1" fill="#fff"/>
<circle cx="904.3" cy="648.8" r="2.2" stroke="#111" stroke-width="0.9" fill="#fff"/>
<circle cx="904.3" cy="648.8" r="0.8" fill="#111"/>
<circle cx="963.2" cy="721.3" r="4.1" stroke="#111" stroke-width="1.1" fill="#fff"/>
<circle cx="963.2" cy="721.3" r="2.2" stroke="#111" stroke-width="0.9" fill="#fff"/>
<circle cx="963.2" cy="721.3" r="0.8" fill="#111"/>
<rect x="950.00" y="727.00" width="26.80" height="10.30" stroke="#111" stroke-width="1.2" fill="#fff" />
<rect x="897.50" y="729.50" width="15.50" height="8.00" stroke="#777" stroke-width="0.7" fill="#fff" />
<line x1="902.00" y1="730.50" x2="913.00" y2="730.50" stroke="#111" stroke-width="1.5" />
<line x1="902.00" y1="736.50" x2="913.00" y2="736.50" stroke="#111" stroke-width="1.5" />
<rect x="983.00" y="734.50" width="38.60" height="4.00" stroke="#444" stroke-width="0.8" fill="#fff" />
<path d="M985,738 A5,5 0 0 0 995,738" stroke="#555" stroke-width="0.8" fill="none"/>
<rect x="983.00" y="729.60" width="10.00" height="2.20" stroke="#444" stroke-width="0.7" fill="#888" />
<rect x="989.00" y="731.80" width="2.20" height="4.70" stroke="#222" stroke-width="0.7" fill="#555" />
<circle cx="907.6" cy="731.7" r="31.1" stroke="#111" stroke-width="2.2" fill="none"/>
<text transform="translate(868.00,775.50) scale(0.95,1)" x="0" y="9.46" font-size="27.5" font-weight="bold" text-anchor="middle" fill="#000">V</text>
<text transform="translate(1119.00,853.80) scale(0.95,1)" x="0" y="9.46" font-size="27.5" font-weight="bold" text-anchor="middle" fill="#000">W</text>
<line x1="1102.60" y1="918.60" x2="1319.60" y2="918.60" stroke="#555" stroke-width="1" />
<line x1="1116.00" y1="918.60" x2="1131.70" y2="898.50" stroke="#444" stroke-width="0.9" />
<line x1="1136.50" y1="918.60" x2="1152.20" y2="898.50" stroke="#444" stroke-width="0.9" />
<line x1="1159.30" y1="918.60" x2="1175.00" y2="898.50" stroke="#444" stroke-width="0.9" />
<line x1="1179.80" y1="918.60" x2="1195.50" y2="898.50" stroke="#444" stroke-width="0.9" />
<line x1="1202.00" y1="918.60" x2="1217.70" y2="898.50" stroke="#444" stroke-width="0.9" />
<line x1="1227.00" y1="918.60" x2="1242.70" y2="898.50" stroke="#444" stroke-width="0.9" />
<line x1="1241.00" y1="918.60" x2="1256.70" y2="898.50" stroke="#444" stroke-width="0.9" />
<line x1="1261.80" y1="918.60" x2="1277.50" y2="898.50" stroke="#444" stroke-width="0.9" />
<path d="M1202,918.6 L1202,983 Q1202,984.5 1204,984.5 L1208,984.5 L1208,978 L1205,976 L1205,959 L1230,959 L1230,978 L1226,980 L1226,984.5 L1233.5,984.5 L1233.5,918.6" stroke="#444" stroke-width="0.9" fill="#fff"/>
<rect x="1205.00" y="921.50" width="25.50" height="9.00" stroke="#444" stroke-width="0.8" fill="#fff" rx="2"/>
<rect x="1205.00" y="932.00" width="25.50" height="25.00" stroke="#444" stroke-width="0.8" fill="#fff" rx="2"/>
<path d="M1210,930.5 Q1216,937 1222,930.5" stroke="#444" stroke-width="0.8" fill="#fff"/>
<rect x="1224.00" y="953.00" width="3.00" height="32.00" stroke="#222" stroke-width="0.9" fill="#fff" />
<g transform="translate(1216,862.7) rotate(0)">
<path d="M0.00,0.00 L-5.90,4.80 L-5.90,10.80 L-4.90,11.60 L-5.90,12.40 L-5.90,17.60 L-4.90,18.40 L-5.90,19.20 L-5.90,24.40 L-4.90,25.20 L-5.90,26.00 L-5.90,31.10 L-4.90,31.90 L-5.90,32.70 L-5.90,37.30 L-7.70,37.30 L-7.70,49.00 L-6.30,49.00 L-6.30,55.60 L6.30,55.60 L6.30,49.00 L7.70,49.00 L7.70,37.30 L5.90,37.30 L5.90,32.70 L4.90,31.90 L5.90,31.10 L5.90,26.00 L4.90,25.20 L5.90,24.40 L5.90,19.20 L4.90,18.40 L5.90,17.60 L5.90,12.40 L4.90,11.60 L5.90,10.80 L5.90,4.80 Z" stroke="#444" stroke-width="0.8" fill="#fff"/>
<line x1="-5" y1="11.6" x2="5" y2="11.6" stroke="#777" stroke-width="0.6"/>
<line x1="-5" y1="18.4" x2="5" y2="18.4" stroke="#777" stroke-width="0.6"/>
<line x1="-5" y1="25.2" x2="5" y2="25.2" stroke="#777" stroke-width="0.6"/>
<line x1="-5" y1="31.9" x2="5" y2="31.9" stroke="#777" stroke-width="0.6"/>
<line x1="0" y1="1.5" x2="0" y2="37.3" stroke="#666" stroke-width="0.7"/>
<line x1="-4.4" y1="37.3" x2="-4.4" y2="49" stroke="#999" stroke-width="0.6"/>
<line x1="4.4" y1="37.3" x2="4.4" y2="49" stroke="#999" stroke-width="0.6"/>
<rect x="-8" y="55.6" width="16" height="3" fill="#888" stroke="#333" stroke-width="0.7"/>
</g>
<path d="M1208,959.3 L1223.6,959.3 L1223.6,1050 Q1223.6,1052.3 1221,1052.3 L1215,1052.3 L1208,1046.5 Z" stroke="#4a7a7a" stroke-width="0.9" fill="#bfffff"/>
<line x1="1126.00" y1="1001.40" x2="1259.00" y2="1001.40" stroke="#333" stroke-width="0.9" />
<polygon points="1202.00,1001.40 1190.30,1003.60 1190.30,999.20" fill="#000"/>
<polygon points="1233.50,1001.40 1245.20,999.20 1245.20,1003.60" fill="#000"/>
<line x1="1202.00" y1="985.00" x2="1202.00" y2="1006.00" stroke="#555" stroke-width="0.8" />
<line x1="1233.50" y1="985.00" x2="1233.50" y2="1006.00" stroke="#555" stroke-width="0.8" />
<text transform="translate(1150.00,990.20)" x="0" y="8.26" font-size="24" font-weight="normal" text-anchor="middle" fill="#000">16.3</text>
<line x1="1156.60" y1="1034.40" x2="1250.20" y2="1034.40" stroke="#333" stroke-width="0.9" />
<polygon points="1208.00,1034.40 1196.30,1036.60 1196.30,1032.20" fill="#000"/>
<polygon points="1223.60,1034.40 1235.30,1032.20 1235.30,1036.60" fill="#000"/>
<text transform="translate(1165.00,1022.70)" x="0" y="8.26" font-size="24" font-weight="normal" text-anchor="middle" fill="#000">8</text>
<line x1="1208.60" y1="1001.40" x2="1223.00" y2="1001.40" stroke="#7fb0b0" stroke-width="0.9" />
<line x1="1208.60" y1="1034.40" x2="1223.00" y2="1034.40" stroke="#7fb0b0" stroke-width="0.9" />
<line x1="1233.50" y1="931.40" x2="1288.00" y2="931.40" stroke="#555" stroke-width="0.8" />
<line x1="1233.50" y1="959.30" x2="1288.00" y2="959.30" stroke="#555" stroke-width="0.8" />
<line x1="1233.50" y1="984.50" x2="1319.00" y2="984.50" stroke="#555" stroke-width="0.8" />
<line x1="1233.50" y1="918.60" x2="1319.00" y2="918.60" stroke="#555" stroke-width="0.8" />
<line x1="1283.60" y1="903.80" x2="1283.60" y2="1090.00" stroke="#333" stroke-width="0.9" />
<polygon points="1283.60,931.40 1281.40,919.70 1285.80,919.70" fill="#000"/>
<polygon points="1283.60,959.30 1285.80,971.00 1281.40,971.00" fill="#000"/>
<text transform="translate(1271.80,1063.20) rotate(-90)" x="0" y="8.26" font-size="24" font-weight="normal" text-anchor="middle" fill="#000">0-15</text>
<line x1="1314.20" y1="918.60" x2="1314.20" y2="1064.00" stroke="#333" stroke-width="0.9" />
<polygon points="1314.20,918.60 1316.40,930.30 1312.00,930.30" fill="#000"/>
<polygon points="1314.20,984.50 1312.00,972.80 1316.40,972.80" fill="#000"/>
<text transform="translate(1303.40,1049.20) rotate(-90)" x="0" y="8.26" font-size="24" font-weight="normal" text-anchor="middle" fill="#000">35</text>
<text transform="translate(967.40,996.60) scale(0.95,1)" x="0" y="9.46" font-size="27.5" font-weight="bold" text-anchor="middle" fill="#000">V</text>
<line x1="987.60" y1="1015.00" x2="987.60" y2="1242.80" stroke="#555" stroke-width="1" />
<line x1="987.60" y1="1028.20" x2="967.30" y2="1043.60" stroke="#444" stroke-width="0.9" />
<line x1="987.60" y1="1048.40" x2="967.30" y2="1063.80" stroke="#444" stroke-width="0.9" />
<line x1="987.60" y1="1071.40" x2="967.30" y2="1086.80" stroke="#444" stroke-width="0.9" />
<line x1="987.60" y1="1091.60" x2="967.30" y2="1107.00" stroke="#444" stroke-width="0.9" />
<line x1="987.60" y1="1112.00" x2="967.30" y2="1127.40" stroke="#444" stroke-width="0.9" />
<line x1="987.60" y1="1136.60" x2="967.30" y2="1152.00" stroke="#444" stroke-width="0.9" />
<line x1="987.60" y1="1152.90" x2="967.30" y2="1168.30" stroke="#444" stroke-width="0.9" />
<line x1="987.60" y1="1173.60" x2="967.30" y2="1189.00" stroke="#444" stroke-width="0.9" />
<path d="M987.6,1114 L1052,1114 L1054,1117 L1054,1144.7 L987.6,1144.7 Z" stroke="#444" stroke-width="0.9" fill="#fff"/>
<rect x="990.50" y="1117.00" width="9.00" height="25.00" stroke="#444" stroke-width="0.8" fill="#fff" rx="2"/>
<rect x="1001.00" y="1117.00" width="25.00" height="25.00" stroke="#444" stroke-width="0.8" fill="#fff" rx="2"/>
<rect x="1023.00" y="1137.00" width="30.00" height="6.00" stroke="#555" stroke-width="0.7" fill="#fff" />
<line x1="1031.00" y1="1137.00" x2="1031.00" y2="1143.00" stroke="#999" stroke-width="0.6" />
<line x1="1039.00" y1="1137.00" x2="1039.00" y2="1143.00" stroke="#999" stroke-width="0.6" />
<line x1="1047.00" y1="1137.00" x2="1047.00" y2="1143.00" stroke="#999" stroke-width="0.6" />
<line x1="1022.50" y1="1136.30" x2="1054.00" y2="1136.30" stroke="#222" stroke-width="1.5" />
<g transform="translate(932.3,1127.6) rotate(-90)">
<path d="M0.00,0.00 L-5.90,4.80 L-5.90,10.80 L-4.90,11.60 L-5.90,12.40 L-5.90,17.60 L-4.90,18.40 L-5.90,19.20 L-5.90,24.40 L-4.90,25.20 L-5.90,26.00 L-5.90,31.10 L-4.90,31.90 L-5.90,32.70 L-5.90,37.30 L-7.70,37.30 L-7.70,49.00 L-6.30,49.00 L-6.30,55.60 L6.30,55.60 L6.30,49.00 L7.70,49.00 L7.70,37.30 L5.90,37.30 L5.90,32.70 L4.90,31.90 L5.90,31.10 L5.90,26.00 L4.90,25.20 L5.90,24.40 L5.90,19.20 L4.90,18.40 L5.90,17.60 L5.90,12.40 L4.90,11.60 L5.90,10.80 L5.90,4.80 Z" stroke="#444" stroke-width="0.8" fill="#fff"/>
<line x1="-5" y1="11.6" x2="5" y2="11.6" stroke="#777" stroke-width="0.6"/>
<line x1="-5" y1="18.4" x2="5" y2="18.4" stroke="#777" stroke-width="0.6"/>
<line x1="-5" y1="25.2" x2="5" y2="25.2" stroke="#777" stroke-width="0.6"/>
<line x1="-5" y1="31.9" x2="5" y2="31.9" stroke="#777" stroke-width="0.6"/>
<line x1="0" y1="1.5" x2="0" y2="37.3" stroke="#666" stroke-width="0.7"/>
<line x1="-4.4" y1="37.3" x2="-4.4" y2="49" stroke="#999" stroke-width="0.6"/>
<line x1="4.4" y1="37.3" x2="4.4" y2="49" stroke="#999" stroke-width="0.6"/>
<rect x="-8" y="55.6" width="16" height="3" fill="#888" stroke="#333" stroke-width="0.7"/>
</g>
<path d="M1027.7,1120 L1115,1120 L1121.2,1126.2 Q1122.6,1131 1121,1135.7 L1027.7,1135.7 Z" stroke="#6aa0a0" stroke-width="0.8" fill="#bfffff"/>
<line x1="1070.50" y1="1037.60" x2="1070.50" y2="1114.00" stroke="#333" stroke-width="0.9" />
<line x1="1070.50" y1="1144.70" x2="1070.50" y2="1171.70" stroke="#333" stroke-width="0.9" />
<polygon points="1070.50,1114.00 1068.30,1102.30 1072.70,1102.30" fill="#000"/>
<polygon points="1070.50,1144.70 1072.70,1156.40 1068.30,1156.40" fill="#000"/>
<line x1="1054.00" y1="1114.00" x2="1075.40" y2="1114.00" stroke="#555" stroke-width="0.8" />
<line x1="1054.00" y1="1144.70" x2="1075.40" y2="1144.70" stroke="#555" stroke-width="0.8" />
<text transform="translate(1060.00,1062.40) rotate(-90)" x="0" y="8.26" font-size="24" font-weight="normal" text-anchor="middle" fill="#000">16.3</text>
<line x1="1103.60" y1="1068.00" x2="1103.60" y2="1120.00" stroke="#333" stroke-width="0.9" />
<line x1="1103.60" y1="1135.70" x2="1103.60" y2="1161.80" stroke="#333" stroke-width="0.9" />
<polygon points="1103.60,1120.00 1101.40,1108.30 1105.80,1108.30" fill="#000"/>
<polygon points="1103.60,1135.70 1105.80,1147.40 1101.40,1147.40" fill="#000"/>
<text transform="translate(1091.60,1076.80) rotate(-90)" x="0" y="8.26" font-size="24" font-weight="normal" text-anchor="middle" fill="#000">8</text>
<line x1="899.00" y1="1204.00" x2="1055.60" y2="1204.00" stroke="#333" stroke-width="0.9" />
<polygon points="999.80,1204.00 988.10,1206.20 988.10,1201.80" fill="#000"/>
<polygon points="1028.60,1204.00 1040.30,1201.80 1040.30,1206.20" fill="#000"/>
<line x1="999.80" y1="1144.70" x2="999.80" y2="1208.60" stroke="#555" stroke-width="0.8" />
<line x1="1028.60" y1="1144.70" x2="1028.60" y2="1208.60" stroke="#555" stroke-width="0.8" />
<text transform="translate(925.30,1192.60)" x="0" y="8.26" font-size="24" font-weight="normal" text-anchor="middle" fill="#000">0-15</text>
<line x1="908.90" y1="1238.30" x2="1054.00" y2="1238.30" stroke="#333" stroke-width="0.9" />
<polygon points="987.60,1238.30 999.30,1236.10 999.30,1240.50" fill="#000"/>
<polygon points="1054.00,1238.30 1042.30,1240.50 1042.30,1236.10" fill="#000"/>
<line x1="1054.00" y1="1144.70" x2="1054.00" y2="1242.00" stroke="#555" stroke-width="0.8" />
<text transform="translate(924.20,1227.00)" x="0" y="8.26" font-size="24" font-weight="normal" text-anchor="middle" fill="#000">35</text>
<line x1="111.7" y1="917.70" x2="850.6999999999999" y2="917.70" stroke="#000" stroke-width="1.8"/>
<line x1="111.7" y1="945.27" x2="850.6999999999999" y2="945.27" stroke="#000" stroke-width="1.8"/>
<line x1="111.7" y1="972.84" x2="850.6999999999999" y2="972.84" stroke="#000" stroke-width="1.8"/>
<line x1="111.7" y1="1000.41" x2="850.6999999999999" y2="1000.41" stroke="#000" stroke-width="1.8"/>
<line x1="111.7" y1="1027.97" x2="850.6999999999999" y2="1027.97" stroke="#000" stroke-width="1.8"/>
<line x1="111.7" y1="1055.54" x2="850.6999999999999" y2="1055.54" stroke="#000" stroke-width="1.8"/>
<line x1="111.7" y1="1083.11" x2="850.6999999999999" y2="1083.11" stroke="#000" stroke-width="1.8"/>
<line x1="111.7" y1="1110.68" x2="850.6999999999999" y2="1110.68" stroke="#000" stroke-width="1.8"/>
<line x1="111.7" y1="1138.25" x2="850.6999999999999" y2="1138.25" stroke="#000" stroke-width="1.8"/>
<line x1="111.7" y1="1165.82" x2="850.6999999999999" y2="1165.82" stroke="#000" stroke-width="1.8"/>
<line x1="111.7" y1="1193.39" x2="850.6999999999999" y2="1193.39" stroke="#000" stroke-width="1.8"/>
<line x1="111.7" y1="1220.96" x2="850.6999999999999" y2="1220.96" stroke="#000" stroke-width="1.8"/>
<line x1="111.7" y1="1248.53" x2="850.6999999999999" y2="1248.53" stroke="#000" stroke-width="1.8"/>
<line x1="111.7" y1="1276.09" x2="850.6999999999999" y2="1276.09" stroke="#000" stroke-width="1.8"/>
<line x1="111.7" y1="1303.66" x2="850.6999999999999" y2="1303.66" stroke="#000" stroke-width="1.8"/>
<line x1="111.7" y1="1331.23" x2="850.6999999999999" y2="1331.23" stroke="#000" stroke-width="1.8"/>
<line x1="111.7" y1="1358.80" x2="850.6999999999999" y2="1358.80" stroke="#000" stroke-width="1.8"/>
<line x1="112.5" y1="917.7" x2="112.5" y2="1358.80" stroke="#000" stroke-width="1.8"/>
<line x1="277.3" y1="917.7" x2="277.3" y2="1358.80" stroke="#000" stroke-width="1.8"/>
<line x1="388" y1="917.7" x2="388" y2="1358.80" stroke="#000" stroke-width="1.8"/>
<line x1="497.2" y1="917.7" x2="497.2" y2="1358.80" stroke="#000" stroke-width="1.8"/>
<line x1="585.1" y1="917.7" x2="585.1" y2="1358.80" stroke="#000" stroke-width="1.8"/>
<line x1="673.3" y1="917.7" x2="673.3" y2="1358.80" stroke="#000" stroke-width="1.8"/>
<line x1="761.2" y1="917.7" x2="761.2" y2="1358.80" stroke="#000" stroke-width="1.8"/>
<line x1="849.9" y1="917.7" x2="849.9" y2="1358.80" stroke="#000" stroke-width="1.8"/>
<text x="194.90" y="939.02" font-size="19" font-weight="bold" text-anchor="middle">MODEL</text>
<text x="332.65" y="939.02" font-size="19" font-weight="bold" text-anchor="middle">A</text>
<text x="442.60" y="939.02" font-size="19" font-weight="bold" text-anchor="middle">B</text>
<text x="541.15" y="939.02" font-size="19" font-weight="bold" text-anchor="middle">C</text>
<text x="629.20" y="939.02" font-size="19" font-weight="bold" text-anchor="middle">D</text>
<text x="717.25" y="939.02" font-size="19" font-weight="bold" text-anchor="middle">E</text>
<text x="805.55" y="939.02" font-size="19" font-weight="bold" text-anchor="middle">F</text>
<text x="194.90" y="966.76" font-size="19.5" font-weight="normal" text-anchor="middle">800x800</text>
<text x="332.65" y="966.76" font-size="19.5" font-weight="normal" text-anchor="middle">785-800</text>
<text x="442.60" y="966.76" font-size="19.5" font-weight="normal" text-anchor="middle">785-800</text>
<text x="541.15" y="966.76" font-size="19.5" font-weight="normal" text-anchor="middle">167</text>
<text x="629.20" y="966.76" font-size="19.5" font-weight="normal" text-anchor="middle">585</text>
<text x="717.25" y="966.76" font-size="19.5" font-weight="normal" text-anchor="middle">167</text>
<text x="805.55" y="966.76" font-size="19.5" font-weight="normal" text-anchor="middle">840</text>
<text x="194.90" y="994.33" font-size="19.5" font-weight="normal" text-anchor="middle">800x900</text>
<text x="332.65" y="994.33" font-size="19.5" font-weight="normal" text-anchor="middle">785-800</text>
<text x="442.60" y="994.33" font-size="19.5" font-weight="normal" text-anchor="middle">885-900</text>
<text x="541.15" y="994.33" font-size="19.5" font-weight="normal" text-anchor="middle">267</text>
<text x="629.20" y="994.33" font-size="19.5" font-weight="normal" text-anchor="middle">585</text>
<text x="717.25" y="994.33" font-size="19.5" font-weight="normal" text-anchor="middle">167</text>
<text x="805.55" y="994.33" font-size="19.5" font-weight="normal" text-anchor="middle">840</text>
<text x="194.90" y="1021.90" font-size="19.5" font-weight="normal" text-anchor="middle">800x1000</text>
<text x="332.65" y="1021.90" font-size="19.5" font-weight="normal" text-anchor="middle">785-800</text>
<text x="442.60" y="1021.90" font-size="19.5" font-weight="normal" text-anchor="middle">985-1000</text>
<text x="541.15" y="1021.90" font-size="19.5" font-weight="normal" text-anchor="middle">367</text>
<text x="629.20" y="1021.90" font-size="19.5" font-weight="normal" text-anchor="middle">585</text>
<text x="717.25" y="1021.90" font-size="19.5" font-weight="normal" text-anchor="middle">167</text>
<text x="805.55" y="1021.90" font-size="19.5" font-weight="normal" text-anchor="middle">840</text>
<text x="194.90" y="1049.47" font-size="19.5" font-weight="normal" text-anchor="middle">800x1100</text>
<text x="332.65" y="1049.47" font-size="19.5" font-weight="normal" text-anchor="middle">785-800</text>
<text x="442.60" y="1049.47" font-size="19.5" font-weight="normal" text-anchor="middle">1085-1100</text>
<text x="541.15" y="1049.47" font-size="19.5" font-weight="normal" text-anchor="middle">467</text>
<text x="629.20" y="1049.47" font-size="19.5" font-weight="normal" text-anchor="middle">585</text>
<text x="717.25" y="1049.47" font-size="19.5" font-weight="normal" text-anchor="middle">167</text>
<text x="805.55" y="1049.47" font-size="19.5" font-weight="normal" text-anchor="middle">840</text>
<text x="194.90" y="1077.04" font-size="19.5" font-weight="normal" text-anchor="middle">800x1200</text>
<text x="332.65" y="1077.04" font-size="19.5" font-weight="normal" text-anchor="middle">785-800</text>
<text x="442.60" y="1077.04" font-size="19.5" font-weight="normal" text-anchor="middle">1185-1200</text>
<text x="541.15" y="1077.04" font-size="19.5" font-weight="normal" text-anchor="middle">567</text>
<text x="629.20" y="1077.04" font-size="19.5" font-weight="normal" text-anchor="middle">585</text>
<text x="717.25" y="1077.04" font-size="19.5" font-weight="normal" text-anchor="middle">167</text>
<text x="805.55" y="1077.04" font-size="19.5" font-weight="normal" text-anchor="middle">840</text>
<text x="194.90" y="1104.60" font-size="19.5" font-weight="normal" text-anchor="middle">900x900</text>
<text x="332.65" y="1104.60" font-size="19.5" font-weight="normal" text-anchor="middle">885-900</text>
<text x="442.60" y="1104.60" font-size="19.5" font-weight="normal" text-anchor="middle">885-900</text>
<text x="541.15" y="1104.60" font-size="19.5" font-weight="normal" text-anchor="middle">267</text>
<text x="629.20" y="1104.60" font-size="19.5" font-weight="normal" text-anchor="middle">585</text>
<text x="717.25" y="1104.60" font-size="19.5" font-weight="normal" text-anchor="middle">267</text>
<text x="805.55" y="1104.60" font-size="19.5" font-weight="normal" text-anchor="middle">840</text>
<text x="194.90" y="1132.17" font-size="19.5" font-weight="normal" text-anchor="middle">900x1000</text>
<text x="332.65" y="1132.17" font-size="19.5" font-weight="normal" text-anchor="middle">885-900</text>
<text x="442.60" y="1132.17" font-size="19.5" font-weight="normal" text-anchor="middle">985-1000</text>
<text x="541.15" y="1132.17" font-size="19.5" font-weight="normal" text-anchor="middle">367</text>
<text x="629.20" y="1132.17" font-size="19.5" font-weight="normal" text-anchor="middle">585</text>
<text x="717.25" y="1132.17" font-size="19.5" font-weight="normal" text-anchor="middle">267</text>
<text x="805.55" y="1132.17" font-size="19.5" font-weight="normal" text-anchor="middle">840</text>
<text x="194.90" y="1159.74" font-size="19.5" font-weight="normal" text-anchor="middle">900x1100</text>
<text x="332.65" y="1159.74" font-size="19.5" font-weight="normal" text-anchor="middle">885-900</text>
<text x="442.60" y="1159.74" font-size="19.5" font-weight="normal" text-anchor="middle">1085-1100</text>
<text x="541.15" y="1159.74" font-size="19.5" font-weight="normal" text-anchor="middle">467</text>
<text x="629.20" y="1159.74" font-size="19.5" font-weight="normal" text-anchor="middle">585</text>
<text x="717.25" y="1159.74" font-size="19.5" font-weight="normal" text-anchor="middle">267</text>
<text x="805.55" y="1159.74" font-size="19.5" font-weight="normal" text-anchor="middle">840</text>
<text x="194.90" y="1187.31" font-size="19.5" font-weight="normal" text-anchor="middle">900x1200</text>
<text x="332.65" y="1187.31" font-size="19.5" font-weight="normal" text-anchor="middle">885-900</text>
<text x="442.60" y="1187.31" font-size="19.5" font-weight="normal" text-anchor="middle">1185-1200</text>
<text x="541.15" y="1187.31" font-size="19.5" font-weight="normal" text-anchor="middle">567</text>
<text x="629.20" y="1187.31" font-size="19.5" font-weight="normal" text-anchor="middle">585</text>
<text x="717.25" y="1187.31" font-size="19.5" font-weight="normal" text-anchor="middle">267</text>
<text x="805.55" y="1187.31" font-size="19.5" font-weight="normal" text-anchor="middle">840</text>
<text x="194.90" y="1214.88" font-size="19.5" font-weight="normal" text-anchor="middle">1000x1000</text>
<text x="332.65" y="1214.88" font-size="19.5" font-weight="normal" text-anchor="middle">985-1000</text>
<text x="442.60" y="1214.88" font-size="19.5" font-weight="normal" text-anchor="middle">985-1000</text>
<text x="541.15" y="1214.88" font-size="19.5" font-weight="normal" text-anchor="middle">367</text>
<text x="629.20" y="1214.88" font-size="19.5" font-weight="normal" text-anchor="middle">585</text>
<text x="717.25" y="1214.88" font-size="19.5" font-weight="normal" text-anchor="middle">367</text>
<text x="805.55" y="1214.88" font-size="19.5" font-weight="normal" text-anchor="middle">840</text>
<text x="194.90" y="1242.45" font-size="19.5" font-weight="normal" text-anchor="middle">1000x1100</text>
<text x="332.65" y="1242.45" font-size="19.5" font-weight="normal" text-anchor="middle">985-1000</text>
<text x="442.60" y="1242.45" font-size="19.5" font-weight="normal" text-anchor="middle">1085-1100</text>
<text x="541.15" y="1242.45" font-size="19.5" font-weight="normal" text-anchor="middle">467</text>
<text x="629.20" y="1242.45" font-size="19.5" font-weight="normal" text-anchor="middle">585</text>
<text x="717.25" y="1242.45" font-size="19.5" font-weight="normal" text-anchor="middle">367</text>
<text x="805.55" y="1242.45" font-size="19.5" font-weight="normal" text-anchor="middle">840</text>
<text x="194.90" y="1270.02" font-size="19.5" font-weight="normal" text-anchor="middle">1000x1200</text>
<text x="332.65" y="1270.02" font-size="19.5" font-weight="normal" text-anchor="middle">985-1000</text>
<text x="442.60" y="1270.02" font-size="19.5" font-weight="normal" text-anchor="middle">1185-1200</text>
<text x="541.15" y="1270.02" font-size="19.5" font-weight="normal" text-anchor="middle">567</text>
<text x="629.20" y="1270.02" font-size="19.5" font-weight="normal" text-anchor="middle">585</text>
<text x="717.25" y="1270.02" font-size="19.5" font-weight="normal" text-anchor="middle">367</text>
<text x="805.55" y="1270.02" font-size="19.5" font-weight="normal" text-anchor="middle">840</text>
<text x="194.90" y="1297.59" font-size="19.5" font-weight="normal" text-anchor="middle">1100x1100</text>
<text x="332.65" y="1297.59" font-size="19.5" font-weight="normal" text-anchor="middle">1085-1100</text>
<text x="442.60" y="1297.59" font-size="19.5" font-weight="normal" text-anchor="middle">1085-1100</text>
<text x="541.15" y="1297.59" font-size="19.5" font-weight="normal" text-anchor="middle">467</text>
<text x="629.20" y="1297.59" font-size="19.5" font-weight="normal" text-anchor="middle">585</text>
<text x="717.25" y="1297.59" font-size="19.5" font-weight="normal" text-anchor="middle">467</text>
<text x="805.55" y="1297.59" font-size="19.5" font-weight="normal" text-anchor="middle">840</text>
<text x="194.90" y="1325.15" font-size="19.5" font-weight="normal" text-anchor="middle">1100x1200</text>
<text x="332.65" y="1325.15" font-size="19.5" font-weight="normal" text-anchor="middle">1085-1100</text>
<text x="442.60" y="1325.15" font-size="19.5" font-weight="normal" text-anchor="middle">1185-1200</text>
<text x="541.15" y="1325.15" font-size="19.5" font-weight="normal" text-anchor="middle">567</text>
<text x="629.20" y="1325.15" font-size="19.5" font-weight="normal" text-anchor="middle">585</text>
<text x="717.25" y="1325.15" font-size="19.5" font-weight="normal" text-anchor="middle">467</text>
<text x="805.55" y="1325.15" font-size="19.5" font-weight="normal" text-anchor="middle">840</text>
<text x="194.90" y="1352.72" font-size="19.5" font-weight="normal" text-anchor="middle">1200x1200</text>
<text x="332.65" y="1352.72" font-size="19.5" font-weight="normal" text-anchor="middle">1185-1200</text>
<text x="442.60" y="1352.72" font-size="19.5" font-weight="normal" text-anchor="middle">1185-1200</text>
<text x="541.15" y="1352.72" font-size="19.5" font-weight="normal" text-anchor="middle">567</text>
<text x="629.20" y="1352.72" font-size="19.5" font-weight="normal" text-anchor="middle">585</text>
<text x="717.25" y="1352.72" font-size="19.5" font-weight="normal" text-anchor="middle">567</text>
<text x="805.55" y="1352.72" font-size="19.5" font-weight="normal" text-anchor="middle">840</text>
</svg>
</body></html>
